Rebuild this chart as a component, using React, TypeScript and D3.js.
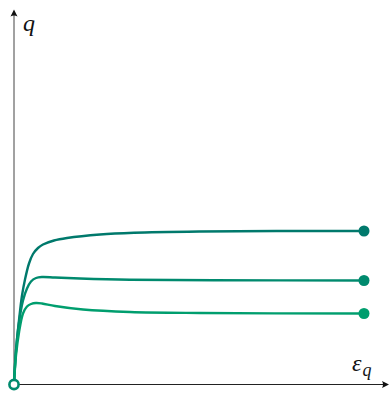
import React from "react";
import * as d3 from "d3";

const W = 392;
const H = 393;

// ε_q, q data (arbitrary units)
const topCurve: [number, number][] = [
  [0, 0], [0.08, 1.36], [0.2, 2.56], [0.32, 3.56], [0.44, 4.2], [0.6, 4.84],
  [0.76, 5.22], [0.96, 5.46], [1.16, 5.6], [1.6, 5.76], [2.12, 5.86],
  [3.44, 6.0], [4.8, 6.07], [7.44, 6.12], [10.5, 6.14], [14, 6.14],
];
const midCurve: [number, number][] = [
  [0, 0], [0.08, 1.36], [0.2, 2.48], [0.36, 3.36], [0.52, 3.84], [0.68, 4.12],
  [0.88, 4.26], [1.12, 4.3], [1.64, 4.28], [2.64, 4.24], [4.64, 4.19],
  [8, 4.17], [14, 4.16],
];
const lowCurve: [number, number][] = [
  [0, 0], [0.08, 1.16], [0.2, 2.08], [0.36, 2.84], [0.52, 3.12], [0.68, 3.22],
  [0.88, 3.26], [1.12, 3.24], [1.64, 3.14], [2.76, 3.0], [4.64, 2.9],
  [7.44, 2.86], [14, 2.84],
];
const seriesColors = ["#00796c", "#008a6e", "#009e6e"];
const seriesList = [topCurve, midCurve, lowCurve];

export default function App() {
  const x = d3.scaleLinear().domain([0, 15]).range([14, 389]);
  const y = d3.scaleLinear().domain([0, 15]).range([384.5, 9.5]);
  const line = d3
    .line<[number, number]>()
    .x((d) => x(d[0]))
    .y((d) => y(d[1]))
    .curve(d3.curveCatmullRom.alpha(0.5));

  const x0 = x(0);
  const y0 = y(0);
  const xEnd = x(15);
  const yEnd = y(15);

  return (
    <svg
      width={W}
      height={H}
      style={{ position: "absolute", left: 0, top: 0, display: "block", background: "#fff" }}
    >
      {/* axes */}
      <line x1={x0} y1={y0} x2={xEnd - 2} y2={y0} stroke="#222" strokeWidth={1} />
      <line x1={x0} y1={y0} x2={x0} y2={yEnd + 2} stroke="#444" strokeWidth={1} />
      <path
        d={`M${xEnd},${y0} L${xEnd - 7},${y0 - 3.5} Q${xEnd - 5},${y0} ${xEnd - 7},${y0 + 3.5} Z`}
        fill="#111"
      />
      <path
        d={`M${x0},${yEnd} L${x0 - 3.5},${yEnd + 7} Q${x0},${yEnd + 5} ${x0 + 3.5},${yEnd + 7} Z`}
        fill="#111"
      />
      {/* labels */}
      <text
        x={23}
        y={31}
        fontFamily="'Liberation Serif', serif"
        fontStyle="italic"
        fontSize={24}
        fill="#111"
      >
        q
      </text>
      <text
        x={352}
        y={371}
        fontFamily="'Liberation Serif', serif"
        fontStyle="italic"
        fontSize={24}
        fill="#111"
      >
        ε
        <tspan dx={1} dy={5} fontSize={18}>q</tspan>
      </text>
      {/* curves */}
      {seriesList.map((s, i) => (
        <path
          key={"l" + i}
          d={line(s) || ""}
          fill="none"
          stroke={seriesColors[i]}
          strokeWidth={2.4}
          strokeLinecap="round"
        />
      ))}
      {seriesList.map((s, i) => {
        const last = s[s.length - 1];
        return (
          <circle key={"m" + i} cx={x(last[0])} cy={y(last[1])} r={5.5} fill={seriesColors[i]} />
        );
      })}
      <circle cx={x0} cy={y0} r={4.6} fill="#fff" stroke={seriesColors[1]} strokeWidth={2.6} />
    </svg>
  );
}
